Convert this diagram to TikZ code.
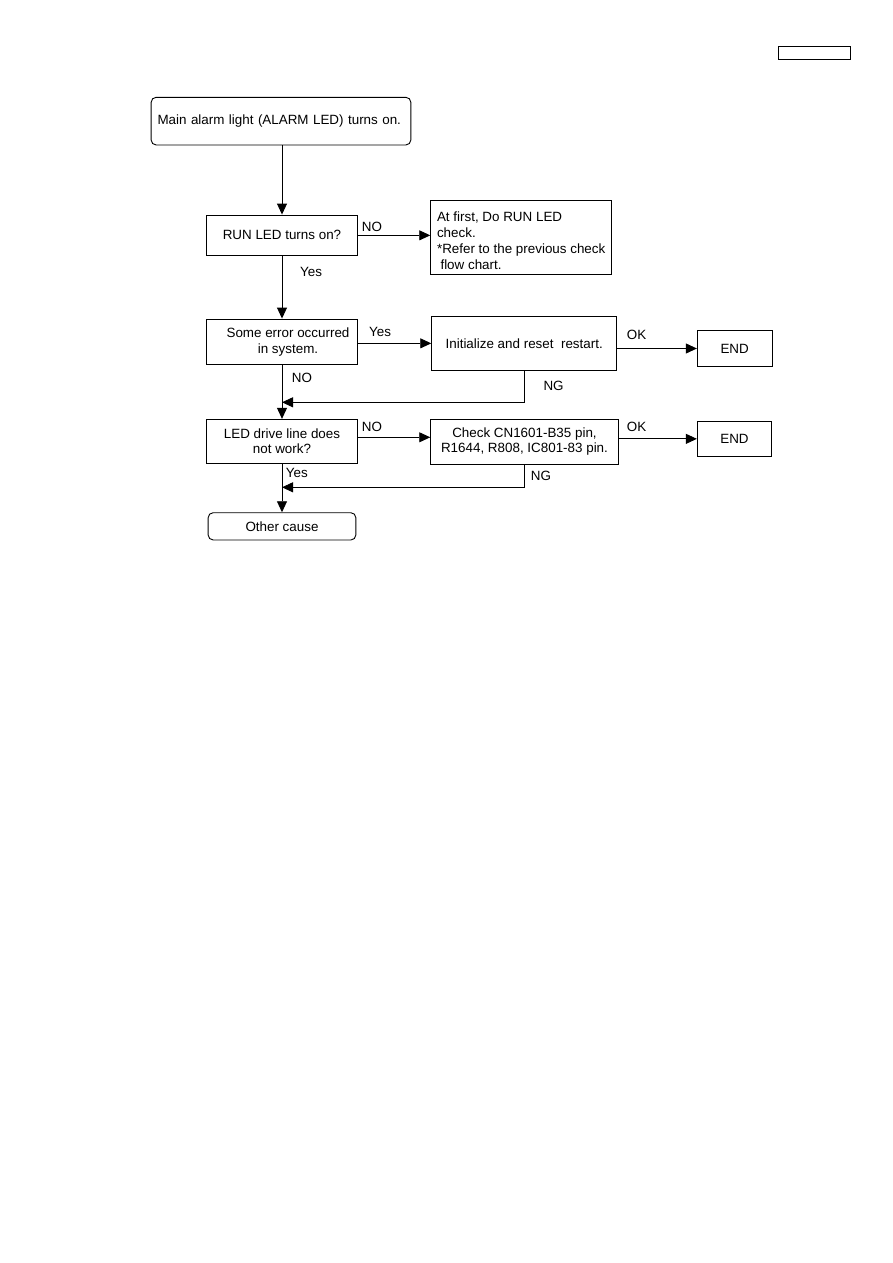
\documentclass[tikz,border=0pt]{standalone}
\usepackage{fontspec}
\setmainfont{Liberation Sans}
\usetikzlibrary{arrows.meta}
\begin{document}
\begin{tikzpicture}[x=1pt,y=-1pt,
  every node/.style={font=\fontsize{13.4}{16}\selectfont},
  box/.style={draw, line width=0.9pt, inner sep=0pt, align=center},
  rbox/.style={box, rounded corners=5pt},
  lbl/.style={anchor=base west, inner sep=0pt},
  arr/.style={line width=0.9pt, -{Triangle[length=11pt,width=10pt]}}]
\fill[white] (0,0) rectangle (893,1263);
\useasboundingbox (0,0) rectangle (893,1263);
% header tag
\node[box, minimum width=71.7pt, minimum height=13.3pt] (tag) at (814.15,52.65) {};
% boxes
\node[rbox, minimum width=259.7pt, minimum height=47.7pt, text width=247pt, align=left] (b1) at (281,121.15) {Main alarm light (ALARM LED) turns on.};
\node[box, minimum width=151.8pt, minimum height=40.7pt] (b2) at (282,235.35) {RUN LED turns on?};
\node[box, minimum width=181pt, minimum height=73.3pt, align=left] (b3) at (521.2,237.35) {\rule{0pt}{15.6pt}At first, Do RUN LED\\check.\\{*}Refer to the previous check\\\hspace*{3.5pt}flow chart.};
\node[box, minimum width=151.3pt, minimum height=45.3pt] (b4) at (282,341.65) {\hspace*{12pt}Some error occurred\\\hspace*{12pt}in system.};
\node[box, minimum width=185pt, minimum height=53.3pt] (b5) at (524.2,343.35) {Initialize and reset\ \ restart.};
\node[box, minimum width=74.7pt, minimum height=36.4pt] (e1) at (734.65,348.5) {END};
\node[box, minimum width=150.6pt, minimum height=44pt, font=\fontsize{13.4}{14.4}\selectfont] (b6) at (282,441.3) {LED drive line does\\not work?};
\node[box, minimum width=187.6pt, minimum height=45pt, font=\fontsize{13.4}{15}\selectfont] (b7) at (524.5,441.8) {Check CN1601-B35 pin,\\R1644, R808, IC801-83 pin.};
\node[box, minimum width=74.4pt, minimum height=35.7pt] (e2) at (734.5,438.85) {END};
\node[rbox, minimum width=147.7pt, minimum height=27.3pt] (b8) at (282,526.35) {Other cause};
% junctions
\coordinate (j1) at (282,402.3);
\coordinate (j2) at (282,487.3);
% connectors
\draw[arr] (b2.north |- b1.south) -- (b2.north);
\draw[arr] (b2.east) -- (b2.east -| b3.west);
\draw[arr] (b2.south) -- (b4.north);
\draw[arr] (b4.east |- b5.west) -- (b5.west);
\draw[arr] (b5.east |- e1.west) -- (e1.west);
\draw[arr] (b5.south) |- (j1);
\draw[arr] (b4.south) -- (b6.north);
\draw[arr] ([yshift=4pt]b6.east) -- ([yshift=4pt]b6.east -| b7.west);
\draw[arr] (b7.east |- e2.west) -- (e2.west);
\draw[arr] (b7.south) |- (j2);
\draw[arr] (b6.south) -- (b8.north);
% labels
\node[lbl] (l1) at (361.7,231.7) {NO};
\node[lbl] (l2) at (300,276) {Yes};
\node[lbl] (l3) at (369,336) {Yes};
\node[lbl] (l4) at (626.7,339.3) {OK};
\node[lbl] (l5) at (543.3,390) {NG};
\node[lbl] (l6) at (291.7,382.3) {NO};
\node[lbl] (l7) at (361.7,431.7) {NO};
\node[lbl] (l8) at (626.7,431.7) {OK};
\node[lbl] (l9) at (530.7,480.7) {NG};
\node[lbl] (l10) at (285.7,477.3) {Yes};
\end{tikzpicture}
\end{document}
